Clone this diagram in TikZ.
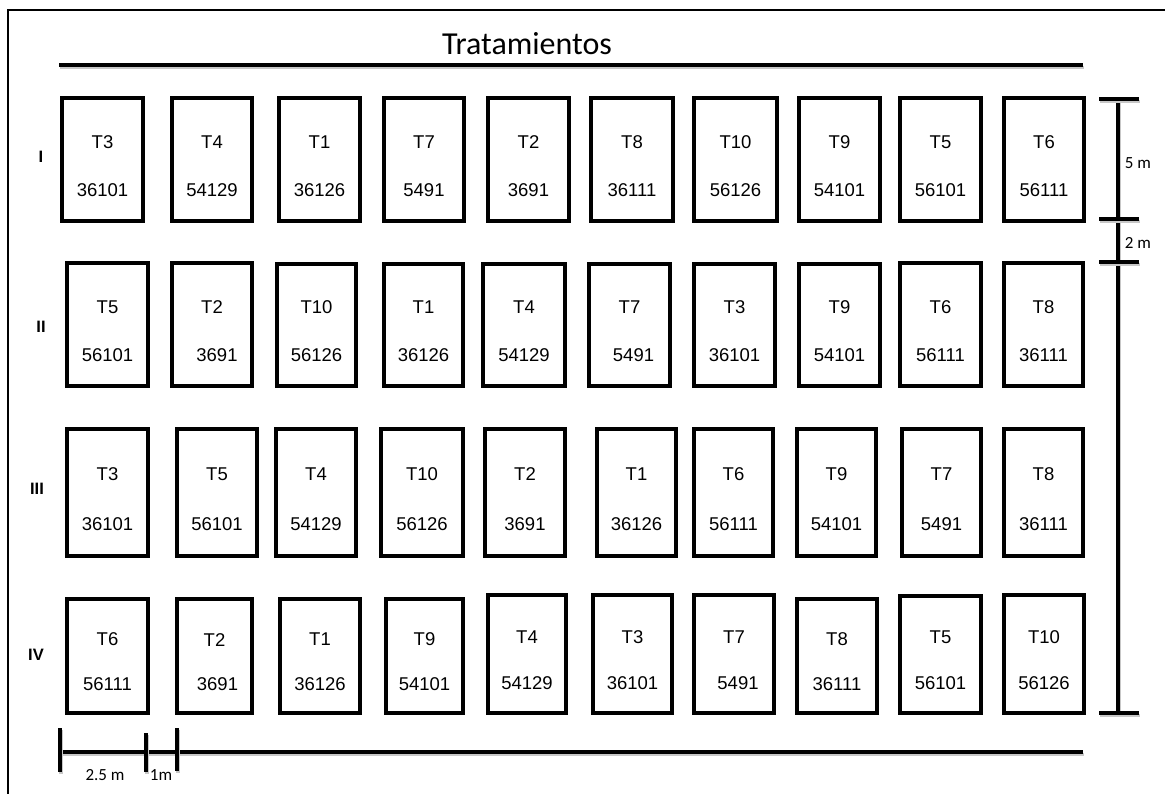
\documentclass[tikz,border=0pt]{standalone}
\usepackage{fontspec}
\setmainfont{Liberation Sans}
\newfontfamily\cali{Carlito}
\usetikzlibrary{fit,calc}
\tikzset{
  pb/.style={draw, line width=3.2pt, inner sep=0pt, rectangle},
  tl/.style={font=\fontsize{18.5}{21}\selectfont, inner sep=0pt},
  rowlab/.style={font=\fontsize{16.5}{18}\selectfont\bfseries, inner sep=0pt},
  scl/.style={font=\cali\fontsize{17}{19}\selectfont, inner sep=0pt},
  bar/.style={line width=3.4pt, preaction={draw=black!22, line width=3.6pt, transform canvas={shift={(1.2pt,-2.4pt)}}}},
  frame/.style={line width=2pt}
}
% name, xl, xr, yt, yb, label, number, dx of number
\newcommand\plotcell[8]{%
  \node[pb, fit={(#2,#4) (#3,#5)}] (#1) {};
  \node[tl] (#1t) at ($(#1.north)!0.36!(#1.south)$) {#6};
  \node[tl] (#1n) at ($(#1.north)!0.74!(#1.south)+(#8,0)$) {#7};
}
\begin{document}
\begin{tikzpicture}[x=1pt,y=-1pt]
\useasboundingbox (0,0) rectangle (1165,794);
% frame
\coordinate (fa) at (8,794);
\coordinate (fb) at (8,10);
\coordinate (fc) at (1165,10);
\draw[frame] (fa) -- (fb) -- (fc);
% title
\node[font=\cali\fontsize{32}{36}\selectfont, inner sep=0pt] (title) at (527,44) {Tratamientos};
\coordinate (ta) at (59,65);
\coordinate (tb) at (1083,65);
\draw[bar] (ta) -- (tb);
% row labels
\node[rowlab] (rI) at (41,157) {I};
\node[rowlab] (rII) at (41,327) {II};
\node[rowlab] (rIII) at (37,489) {III};
\node[rowlab] (rIV) at (36,655) {IV};
% Row I
\plotcell{a1}{62}{143}{98}{221}{T3}{36101}{0}
\plotcell{a2}{172}{252}{98}{221}{T4}{54129}{0}
\plotcell{a3}{279}{360}{98}{221}{T1}{36126}{0}
\plotcell{a4}{384}{464}{98}{221}{T7}{5491}{0}
\plotcell{a5}{488}{569}{98}{221}{T2}{3691}{0}
\plotcell{a6}{591}{673}{98}{221}{T8}{36111}{0}
\plotcell{a7}{694}{777}{98}{221}{T10}{56126}{0}
\plotcell{a8}{799}{880}{98}{221}{T9}{54101}{0}
\plotcell{a9}{900}{981}{98}{221}{T5}{56101}{0}
\plotcell{a10}{1004}{1084}{98}{221}{T6}{56111}{0}
% Row II
\plotcell{b1}{67}{148}{263}{386}{T5}{56101}{0}
\plotcell{b2}{172}{252}{263}{386}{T2}{3691}{5}
\plotcell{b3}{277}{356}{264}{386}{T10}{56126}{0}
\plotcell{b4}{384}{463}{264}{386}{T1}{36126}{0}
\plotcell{b5}{483}{565}{264}{386}{T4}{54129}{0}
\plotcell{b6}{589}{670}{264}{386}{T7}{5491}{4}
\plotcell{b7}{694}{775}{264}{386}{T3}{36101}{0}
\plotcell{b8}{799}{880}{264}{386}{T9}{54101}{0}
\plotcell{b9}{900}{981}{263}{386}{T6}{56111}{0}
\plotcell{b10}{1004}{1083}{263}{386}{T8}{36111}{0}
% Row III
\plotcell{c1}{67}{148}{429}{556}{T3}{36101}{0}
\plotcell{c2}{177}{257}{429}{556}{T5}{56101}{0}
\plotcell{c3}{276}{356}{429}{556}{T4}{54129}{0}
\plotcell{c4}{381}{463}{429}{556}{T10}{56126}{0}
\plotcell{c5}{485}{565}{429}{556}{T2}{3691}{0}
\plotcell{c6}{597}{676}{429}{556}{T1}{36126}{0}
\plotcell{c7}{694}{773}{429}{556}{T6}{56111}{0}
\plotcell{c8}{797}{876}{429}{556}{T9}{54101}{0}
\plotcell{c9}{902}{981}{429}{556}{T7}{5491}{0}
\plotcell{c10}{1004}{1083}{429}{556}{T8}{36111}{0}
% Row IV
\plotcell{d1}{67}{148}{599}{713}{T6}{56111}{0}
\plotcell{d2}{177}{252}{599}{713}{T2}{3691}{3}
\plotcell{d3}{280}{360}{599}{713}{T1}{36126}{0}
\plotcell{d4}{386}{463}{599}{713}{T9}{54101}{0}
\plotcell{d5}{488}{566}{595}{713}{T4}{54129}{0}
\plotcell{d6}{593}{672}{595}{713}{T3}{36101}{0}
\plotcell{d7}{694}{774}{595}{713}{T7}{5491}{4}
\plotcell{d8}{797}{877}{599}{713}{T8}{36111}{0}
\plotcell{d9}{900}{981}{596}{713}{T5}{56101}{0}
\plotcell{d10}{1004}{1084}{595}{713}{T10}{56126}{0}
% right scale
\coordinate (v0) at (1118,99);
\coordinate (v1) at (1118,219);
\coordinate (v2) at (1118,262);
\coordinate (v3) at (1118,713);
\draw[bar] (v0) -- (v3);
\foreach \c in {v0,v1,v2,v3}{
  \draw[bar] ($(\c)+(-19,0)$) -- ($(\c)+(21,0)$);
}
\node[scl] (l5m) at (1138,163) {5 m};
\node[scl] (l2m) at (1138,243) {2 m};
% bottom scale
\coordinate (h0) at (60,752);
\coordinate (h1) at (146,752);
\coordinate (h2) at (177,752);
\coordinate (h3) at (1083,752);
\draw[bar] (h0) -- (h3);
\coordinate (h0t) at (60,728);
\coordinate (h0b) at (60,772);
\coordinate (h1t) at (146,733);
\coordinate (h1b) at (146,772);
\coordinate (h2t) at (177,728);
\coordinate (h2b) at (177,771);
\draw[bar] (h0t) -- (h0b);
\draw[bar] (h1t) -- (h1b);
\draw[bar] (h2t) -- (h2b);
\node[scl] (l25) at (105,775) {2.5 m};
\node[scl] (l1m) at (161,775) {1m};
\end{tikzpicture}
\end{document}
